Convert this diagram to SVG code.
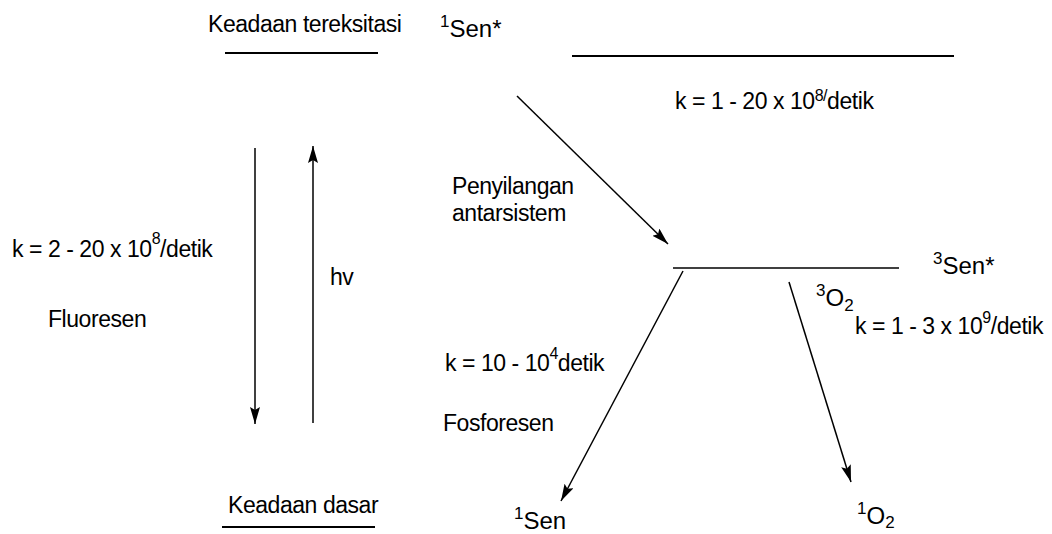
<svg xmlns="http://www.w3.org/2000/svg" width="1052" height="534" viewBox="0 0 1052 534">
  <style>
    text { font-family: "Liberation Sans", Arial, sans-serif; font-size: 23px; letter-spacing: -0.45px; fill: #000; }
    text.sp { font-size: 24px; letter-spacing: 0; }
    .sup { font-size: 16px; }
    .sp .sup { font-size: 17px; }
    .level { stroke: #000; stroke-width: 2; fill: none; }
    .thin { stroke: #000; stroke-width: 1.4; fill: none; }
    .conn { stroke: #000; stroke-width: 1.5; fill: none; marker-end: url(#head); }
  </style>
  <defs>
    <marker id="head" markerUnits="userSpaceOnUse" markerWidth="20" markerHeight="12" refX="17" refY="5" orient="auto">
      <path d="M0,0 L17,5 L0,10 L3,5 Z" fill="#000"/>
    </marker>
  </defs>

  <!-- singlet excited state -->
  <g id="excited-left">
    <text x="208" y="32">Keadaan tereksitasi</text>
    <line class="level" x1="225" y1="53" x2="378" y2="53"/>
  </g>
  <g id="singlet-excited">
    <text class="sp" x="440" y="37"><tspan class="sup" dy="-10">1</tspan><tspan dy="10">Sen*</tspan></text>
    <line class="level" x1="572" y1="56" x2="954" y2="56"/>
  </g>

  <!-- ground state -->
  <g id="ground">
    <text x="228" y="513">Keadaan dasar</text>
    <line class="level" x1="222" y1="527" x2="375" y2="527"/>
  </g>

  <!-- triplet excited state -->
  <g id="triplet-excited">
    <line class="thin" x1="673" y1="268" x2="899" y2="268"/>
    <text class="sp" x="933" y="274"><tspan class="sup" dy="-10">3</tspan><tspan dy="10">Sen*</tspan></text>
  </g>

  <g id="singlet-ground">
    <text class="sp" x="514" y="529"><tspan class="sup" dy="-10">1</tspan><tspan dy="10">Sen</tspan></text>
  </g>
  <g id="singlet-oxygen">
    <text class="sp" x="857" y="524"><tspan class="sup" dy="-10">1</tspan><tspan dy="10">O</tspan><tspan class="sup" dy="4">2</tspan></text>
  </g>

  <!-- transitions -->
  <g id="connectors">
    <line class="conn" x1="255" y1="148" x2="255" y2="424"/>
    <line class="conn" x1="313" y1="423" x2="313" y2="146"/>
    <line class="conn" x1="517" y1="96" x2="668" y2="244"/>
    <line class="conn" x1="683" y1="271" x2="561" y2="501"/>
    <line class="conn" x1="789" y1="282" x2="851" y2="482"/>
  </g>

  <!-- rate constants and process labels -->
  <g id="labels">
    <text x="675" y="109">k = 1 - 20 x 10<tspan class="sup" dy="-8">8/</tspan><tspan dy="8">detik</tspan></text>
    <text x="452" y="194">Penyilangan</text>
    <text x="452" y="221">antarsistem</text>
    <text x="12" y="257">k = 2 - 20 x 10<tspan class="sup" dy="-13">8</tspan><tspan dy="13">/detik</tspan></text>
    <text x="48" y="327">Fluoresen</text>
    <text x="330" y="285">hv</text>
    <text class="sp" x="816" y="306"><tspan class="sup" dy="-10">3</tspan><tspan dy="10">O</tspan><tspan class="sup" dy="5">2</tspan></text>
    <text x="445" y="371">k = 10 - 10<tspan class="sup" dy="-12">4</tspan><tspan dy="12">detik</tspan></text>
    <text x="443" y="431">Fosforesen</text>
    <text x="855" y="334">k = 1 - 3 x 10<tspan class="sup" dy="-11">9</tspan><tspan dy="11">/detik</tspan></text>
  </g>
</svg>
